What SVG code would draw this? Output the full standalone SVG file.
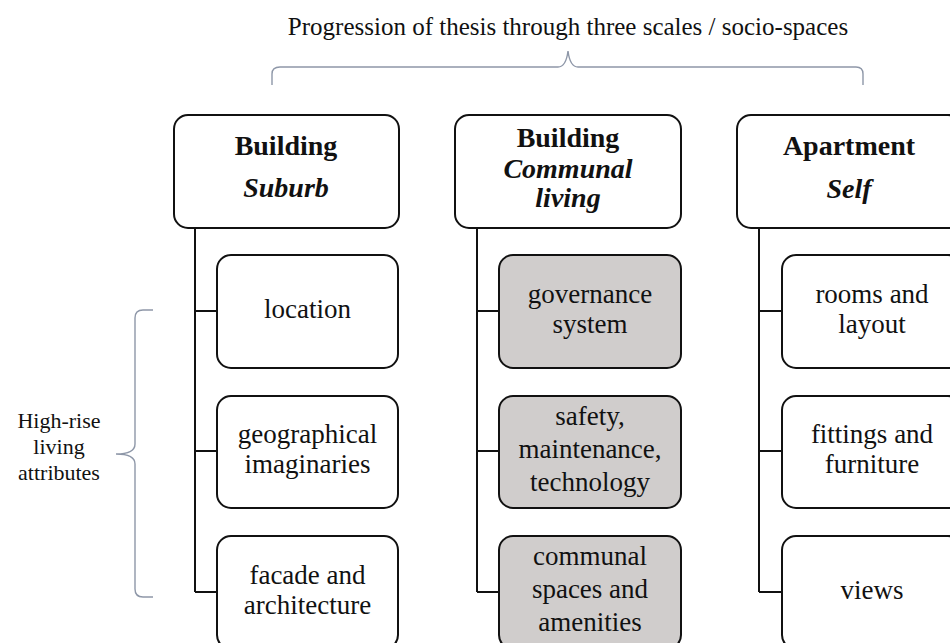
<svg xmlns="http://www.w3.org/2000/svg" width="950" height="643" viewBox="0 0 950 643">
<style>
text{font-family:"Liberation Serif","Times New Roman",serif;fill:#111;text-anchor:middle}
.t{font-size:25px}
.l{font-size:22px}
.c{font-size:27px}
.h{font-size:28px;font-weight:bold}
.hi{font-size:28px;font-weight:bold;font-style:italic}
.box{fill:#fff;stroke:#111;stroke-width:2}
.g{fill:#d0cdcc;stroke:#111;stroke-width:2}
.ln{fill:none;stroke:#111;stroke-width:2}
.br{fill:none;stroke:#8e97a8;stroke-width:1.4}
</style>
<rect width="950" height="643" fill="#fff"/>
<g id="title">
<text class="t" x="568" y="35">Progression of thesis through three scales / socio-spaces</text>
<path class="br" d="M272,85 L272,74 Q272,67 280,67 L558,67 Q566,67 568,51 Q570,67 578,67 L856,67 Q863,67 863,74 L863,85"/>
</g>
<g id="attributes">
<text class="l" x="59" y="428">High-rise</text>
<text class="l" x="59" y="454">living</text>
<text class="l" x="59" y="480">attributes</text>
<path class="br" d="M153,310 L143,310 Q135,310 135,318 L135,444 Q135,454 116,454 Q135,454 135,464 L135,589 Q135,597 143,597 L153,597"/>
</g>
<g id="connectors">
<path class="ln" d="M195,228 V592 M195,311 H217 M195,451 H217 M195,592 H217"/>
<path class="ln" d="M477,228 V592 M477,311 H499 M477,451 H499 M477,592 H499"/>
<path class="ln" d="M759,228 V592 M759,311 H782 M759,451 H782 M759,592 H782"/>
</g>
<g id="h1">
<rect class="box" x="174" y="115" width="225" height="113" rx="14"/>
<text class="h" x="286" y="155">Building</text>
<text class="hi" x="286" y="197">Suburb</text>
</g>
<g id="h2">
<rect class="box" x="455" y="115" width="226" height="113" rx="14"/>
<text class="h" x="568" y="147">Building</text>
<text class="hi" x="568" y="178">Communal</text>
<text class="hi" x="568" y="207">living</text>
</g>
<g id="h3">
<rect class="box" x="737" y="115" width="225" height="113" rx="14"/>
<text class="h" x="849" y="155">Apartment</text>
<text class="hi" x="849" y="198">Self</text>
</g>
<g id="c11">
<rect class="box" x="217" y="255" width="181" height="113" rx="14"/>
<text class="c" x="307.5" y="318">location</text>
</g>
<g id="c12">
<rect class="box" x="217" y="396" width="181" height="112" rx="14"/>
<text class="c" x="307.5" y="443">geographical</text>
<text class="c" x="307.5" y="473">imaginaries</text>
</g>
<g id="c13">
<rect class="box" x="217" y="536" width="181" height="113" rx="14"/>
<text class="c" x="307.5" y="584">facade and</text>
<text class="c" x="307.5" y="614">architecture</text>
</g>
<g id="c21">
<rect class="g" x="499" y="255" width="182" height="113" rx="14"/>
<text class="c" x="590" y="303">governance</text>
<text class="c" x="590" y="333">system</text>
</g>
<g id="c22">
<rect class="g" x="499" y="396" width="182" height="112" rx="14"/>
<text class="c" x="590" y="425">safety,</text>
<text class="c" x="590" y="458">maintenance,</text>
<text class="c" x="590" y="491">technology</text>
</g>
<g id="c23">
<rect class="g" x="499" y="536" width="182" height="113" rx="14"/>
<text class="c" x="590" y="565">communal</text>
<text class="c" x="590" y="598">spaces and</text>
<text class="c" x="590" y="631">amenities</text>
</g>
<g id="c31">
<rect class="box" x="782" y="255" width="180" height="113" rx="14"/>
<text class="c" x="872" y="303">rooms and</text>
<text class="c" x="872" y="333">layout</text>
</g>
<g id="c32">
<rect class="box" x="782" y="396" width="180" height="112" rx="14"/>
<text class="c" x="872" y="443">fittings and</text>
<text class="c" x="872" y="473">furniture</text>
</g>
<g id="c33">
<rect class="box" x="782" y="536" width="180" height="113" rx="14"/>
<text class="c" x="872" y="599">views</text>
</g>
</svg>
